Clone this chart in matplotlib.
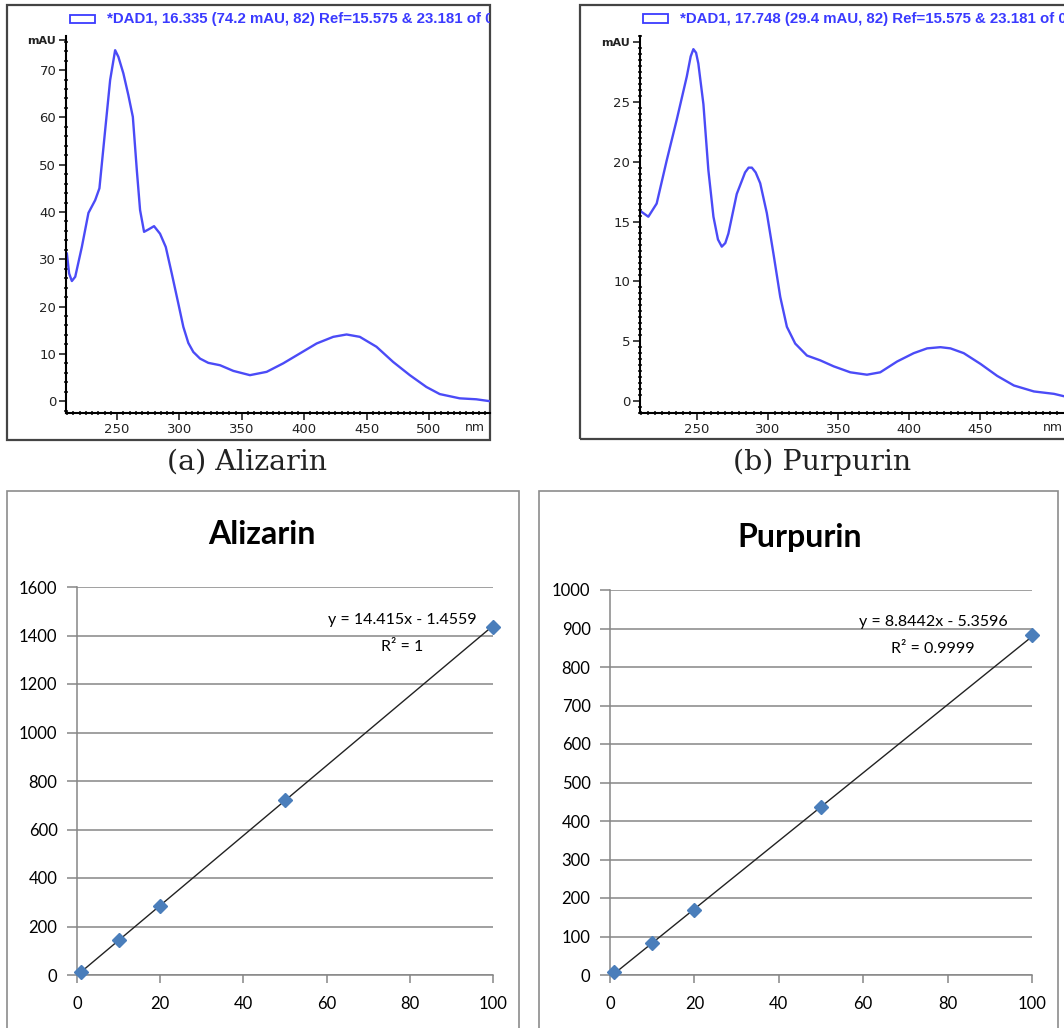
import numpy as np
import matplotlib.pyplot as plt
from matplotlib.patches import Rectangle
from matplotlib.ticker import MultipleLocator

# UV-Vis spectra
aliz_wl = [209.7, 211.5, 213.7, 216.4, 221.7, 227.0, 232.4, 235.8, 240.4, 244.4,
           248.4, 251.0, 255.0, 259.0, 262.6, 265.8, 268.4, 271.6, 275.1, 279.6,
           284.4, 289.0, 293.8, 299.1, 303.1, 307.1, 311.1, 316.5, 323.1, 332.5,
           343.2, 356.5, 369.9, 383.2, 396.6, 410.0, 423.3, 434.0, 444.6, 458.0,
           471.3, 484.7, 498.0, 508.7, 524.7, 538.0, 548.8]
aliz_mau = [31.2, 27.0, 25.4, 26.3, 32.6, 39.8, 42.5, 45.0, 57.3, 67.9,
            74.2, 72.8, 69.3, 64.7, 60.1, 48.8, 40.4, 35.8, 36.3, 37.0,
            35.4, 32.6, 27.0, 20.6, 15.7, 12.3, 10.4, 9.0, 8.1, 7.6,
            6.4, 5.5, 6.2, 8.0, 10.1, 12.2, 13.6, 14.1, 13.6, 11.5,
            8.3, 5.5, 3.0, 1.5, 0.6, 0.4, 0.0]

purp_wl = [209.6, 215.5, 221.4, 228.5, 235.6, 242.7, 245.5, 247.4, 249.3, 250.9,
           254.5, 258.0, 261.6, 264.8, 267.5, 270.0, 272.2, 278.1, 284.0, 286.5,
           288.8, 291.5, 294.7, 299.4, 304.1, 308.9, 313.6, 319.5, 327.8, 337.2,
           346.7, 358.5, 370.3, 379.7, 391.6, 403.4, 412.9, 422.3, 429.4, 438.8,
           450.7, 462.5, 474.3, 488.5, 502.7, 509.8]
purp_mau = [15.9, 15.4, 16.5, 20.1, 23.5, 27.1, 28.8, 29.4, 29.1, 28.2,
            24.8, 19.3, 15.4, 13.5, 12.9, 13.2, 14.0, 17.3, 19.1, 19.5,
            19.5, 19.1, 18.2, 15.7, 12.3, 8.7, 6.2, 4.8, 3.8, 3.4,
            2.9, 2.4, 2.2, 2.4, 3.3, 4.0, 4.4, 4.5, 4.4, 4.0,
            3.1, 2.1, 1.3, 0.8, 0.6, 0.4]

aliz_legend = "*DAD1, 16.335 (74.2 mAU, 82) Ref=15.575 & 23.181 of 0"
purp_legend = "*DAD1, 17.748 (29.4 mAU, 82) Ref=15.575 & 23.181 of 0"

# calibration curves
conc = [1, 10, 20, 50, 100]
aliz_area = [14, 143, 283, 722, 1437]
purp_area = [8, 83, 170, 436, 883]
aliz_fit = (14.415, -1.4559, "1")
purp_fit = (8.8442, -5.3596, "0.9999")

W, H = 1064, 1028
fig = plt.figure(figsize=(W / 100, H / 100), dpi=100)


def rect(x0, y0, x1, y1):
    return [x0 / W, 1 - y1 / H, (x1 - x0) / W, (y1 - y0) / H]


def spectrum(box, axrect, wl, mau, xlim, xmax_lab, ylim, ystep, yminor, ytop, legend, nm_x, caption, cap_x):
    # panel frame + legend line
    pan = fig.add_axes(rect(*box))
    pan.axis('off')
    pan.add_patch(Rectangle((0, 0), 1, 1, transform=pan.transAxes, fill=False,
                            edgecolor='#444444', lw=1.6, clip_on=False))
    bw = box[2] - box[0]
    bh = box[3] - box[1]
    ix = box[0] + 63
    pan.add_patch(Rectangle(((ix - box[0]) / bw, 1 - 17.5 / bh), 25 / bw, 8 / bh,
                            transform=pan.transAxes, fill=False, edgecolor='#3a3aff', lw=1.3))
    pan.text((ix + 37 - box[0]) / bw, 1 - 13.5 / bh, legend, transform=pan.transAxes,
             color='#3a3aff', fontsize=10.8, fontweight='bold', family='Liberation Sans',
             va='center', clip_on=True)

    ax = fig.add_axes(rect(*axrect))
    ax.patch.set_alpha(0)
    ax.plot(wl, mau, color='#4b4bf7', lw=1.7)
    ax.set_xlim(*xlim)
    ax.set_ylim(*ylim)
    for s in ['top', 'right']:
        ax.spines[s].set_visible(False)
    for s in ['left', 'bottom']:
        ax.spines[s].set_linewidth(1.5)
    xt = list(range(250, xmax_lab + 1, 50))
    ax.set_xticks(xt)
    ax.set_xticklabels([str(v) for v in xt])
    yt = list(np.arange(0, ytop, ystep))
    ax.set_yticks(yt + [ytop])
    ax.set_yticklabels([f"{v:g}" for v in yt] + ['mAU'])
    ax.xaxis.set_minor_locator(MultipleLocator(5))
    ax.yaxis.set_minor_locator(MultipleLocator(yminor))
    ax.tick_params(which='major', length=5, width=1.2, labelsize=9.5, colors='#222222', pad=2)
    ax.tick_params(which='minor', direction='inout', length=3, width=1.2, colors='#222222')
    for lab in ax.get_yticklabels()[-1:]:
        lab.set_fontsize(8)
        lab.set_fontweight('bold')
    ax.text(nm_x, -0.022, 'nm', fontsize=9, color='#222222',
            va='top', ha='center', family='DejaVu Sans',
            transform=ax.get_xaxis_transform())
    fig.text(cap_x / W, 1 - 462 / H, caption, ha='center', va='center',
             fontsize=20.5, family='DejaVu Serif', color='#222222')


spectrum((7, 5, 490, 440), (66, 36, 490, 413), aliz_wl, aliz_mau, (209, 549), 500,
         (-2.5, 77.2), 10, 2, 76.3, aliz_legend, 537, "(a) Alizarin", 247)
spectrum((580, 5, 1100, 439), (640, 36, 1064, 413), purp_wl, purp_mau, (209.6, 509.8), 450,
         (-1.0, 30.5), 5, 0.5, 30.0, purp_legend, 502, "(b) Purpurin", 822)


def calib(box, axrect, x, y, fit, title, ylim, ystep, title_xy, eq_xy):
    fig.add_artist(Rectangle((box[0] / W, 1 - box[3] / H), (box[2] - box[0]) / W,
                             (box[3] - box[1]) / H, transform=fig.transFigure,
                             fill=False, edgecolor='#8c8c8c', lw=1.2))
    ax = fig.add_axes(rect(*axrect))
    ax.patch.set_alpha(0)
    slope, icpt, r2 = fit
    xs = np.array([min(x), max(x)])
    ax.plot(xs, slope * xs + icpt, color='#222222', lw=1.0, zorder=3)
    ax.plot(x, y, 'D', color='#4a7ebb', markersize=7, zorder=4, clip_on=False)
    ax.set_xlim(0, 100)
    ax.set_ylim(*ylim)
    ax.set_xticks(range(0, 101, 20))
    ax.set_yticks(np.arange(0, ylim[1] + 1, ystep))
    ax.yaxis.grid(True, color='#868686', lw=1.1)
    ax.set_axisbelow(True)
    for s in ['top', 'right']:
        ax.spines[s].set_visible(False)
    for s in ['left', 'bottom']:
        ax.spines[s].set_color('#868686')
        ax.spines[s].set_linewidth(1.1)
    ax.tick_params(axis='y', length=7, width=1.1, color='#868686', labelsize=12, pad=7)
    ax.tick_params(axis='x', length=6, width=1.1, color='#868686', labelsize=12, pad=9)
    for lab in ax.get_xticklabels() + ax.get_yticklabels():
        lab.set_family('Lato')
    fig.text(title_xy[0] / W, 1 - title_xy[1] / H, title, ha='center', va='center',
             fontsize=23, fontweight='bold', family='Lato')
    sign = '-' if icpt < 0 else '+'
    fig.text(eq_xy[0] / W, 1 - eq_xy[1] / H, f"y = {slope:g}x {sign} {abs(icpt):g}",
             ha='center', va='center', fontsize=11.5, family='Lato')
    fig.text(eq_xy[0] / W, 1 - (eq_xy[1] + 27) / H, f"R² = {r2}",
             ha='center', va='center', fontsize=11.5, family='Lato')


calib((7, 491, 519, 1040), (77, 587, 493, 975), conc, aliz_area, aliz_fit, "Alizarin",
      (0, 1600), 200, (262, 535), (402, 620))
calib((539, 491, 1058, 1040), (610, 590, 1032, 975), conc, purp_area, purp_fit, "Purpurin",
      (0, 1000), 100, (800, 538), (933, 622))

fig.savefig('out.png', dpi=100)
